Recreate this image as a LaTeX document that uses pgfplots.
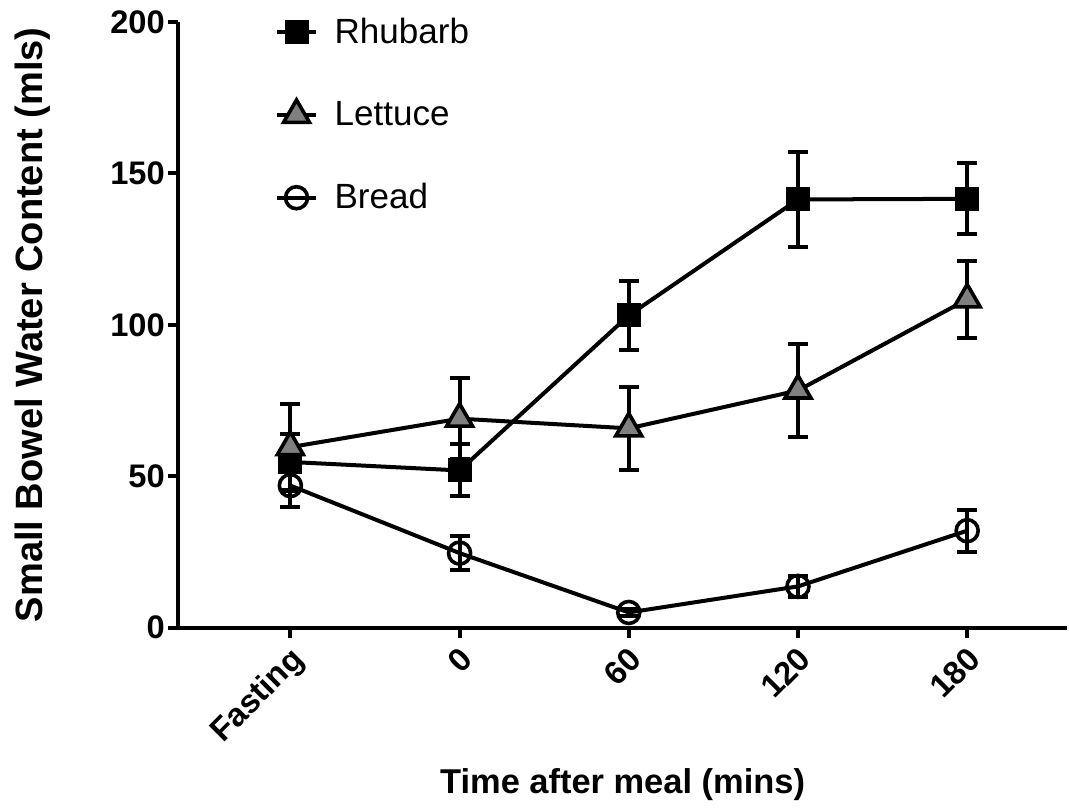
\documentclass[border=0pt]{standalone}
\usepackage{pgfplots}
\pgfplotsset{compat=1.18}
\usepackage{fontspec}
\setmainfont{Liberation Sans}
\definecolor{tri}{RGB}{128,128,128}
\begin{document}
\begin{tikzpicture}
\begin{axis}[
  scale only axis,
  width=444pt, height=302.5pt,
  xmin=-0.663, xmax=4.59,
  ymin=0, ymax=200,
  axis lines=left,
  axis line style={line width=2pt, -},
  xtick={0,1,2,3,4},
  xticklabels={Fasting,0,60,120,180},
  ytick={0,50,100,150,200},
  tick style={line width=2pt, black},
  tick align=outside,
  major tick length=5pt,
  /pgf/number format/assume math mode=true,
  ticklabel style={font=\bfseries\fontsize{16.3}{18}\selectfont},
  xticklabel style={rotate=45, anchor=east, inner sep=2pt, yshift=-11pt, xshift=-1pt,
    text height=0.75em, text depth=0.22em},
  yticklabel style={inner sep=1.5pt},
  xlabel={Time after meal (mins)},
  ylabel={Small Bowel Water Content (mls)},
  xlabel style={font=\bfseries\fontsize{17.2}{19}\selectfont, yshift=-4.5pt},
  ylabel style={font=\bfseries\fontsize{19}{20}\selectfont, yshift=25pt},
  clip=false,
  legend style={draw=none, fill=none, at={(0.109,1.014)}, anchor=north west,
    font=\fontsize{17.5}{19}\selectfont, row sep=23.5pt, inner sep=0pt,
    /tikz/every odd column/.append style={column sep=6.5pt}},
  legend cell align=left,
  legend image code/.code={\draw[mark repeat=2,mark phase=2] plot coordinates {(0cm,0cm)(0.335cm,0cm)(0.67cm,0cm)};},
  every axis plot/.append style={line width=2pt},
  error bars/error bar style={line width=2pt, black},
  error bars/error mark options={rotate=90, mark size=5pt, line width=2pt, black},
]
\addplot[black, mark=square*, mark size=5pt, mark options={fill=black},
  error bars/.cd, y dir=both, y explicit]
  coordinates {(0,54.7) +- (0,9.3) (1,51.9) +- (0,8.6) (2,103.1) +- (0,11.4) (3,141.4) +- (0,15.6) (4,141.6) +- (0,11.7)};
\addplot[black, mark=triangle*, mark size=7.5pt, mark options={fill=tri, line width=1.8pt},
  error bars/.cd, y dir=both, y explicit]
  coordinates {(0,59.6) +- (0,14.4) (1,69.0) +- (0,13.3) (2,65.8) +- (0,13.7) (3,78.3) +- (0,15.5) (4,108.4) +- (0,12.7)};
\addplot[black, mark=o, mark size=5.5pt, mark options={fill=white, line width=1.8pt},
  error bars/.cd, y dir=both, y explicit]
  coordinates {(0,46.9) +- (0,7) (1,24.6) +- (0,5.5) (2,5.0) +- (0,1.2) (3,13.6) +- (0,3.6) (4,32.0) +- (0,6.9)};
\legend{Rhubarb,Lettuce,Bread}
\end{axis}
\path (current axis.south west) ++(-89pt,-90pt);
\path (current axis.north west) ++(0pt,11pt);
\end{tikzpicture}
\end{document}
